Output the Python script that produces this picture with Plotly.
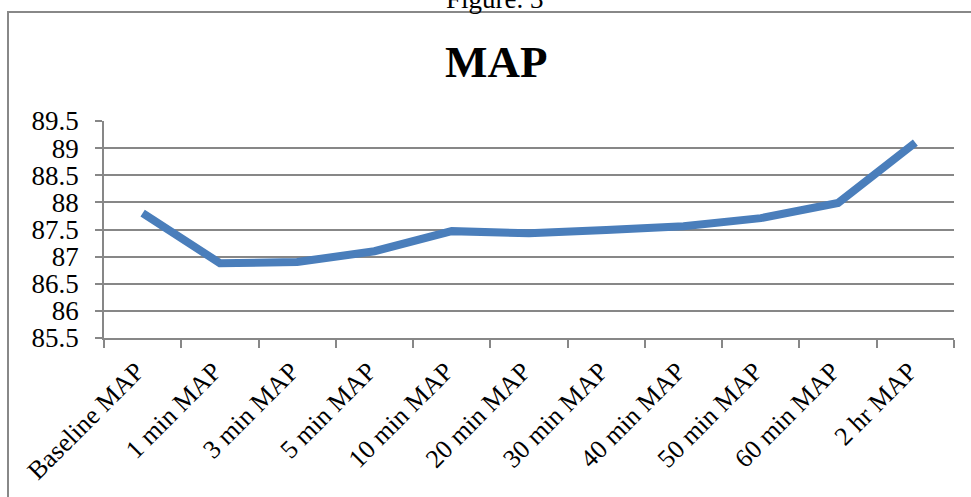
import plotly.graph_objects as go

categories = ["Baseline MAP", "1 min MAP", "3 min MAP", "5 min MAP", "10 min MAP",
              "20 min MAP", "30 min MAP", "40 min MAP", "50 min MAP", "60 min MAP", "2 hr MAP"]
map_values = [87.80, 86.88, 86.90, 87.10, 87.47, 87.43, 87.49, 87.56, 87.71, 87.99, 89.10]
y_tickvals = [85.5, 86, 86.5, 87, 87.5, 88, 88.5, 89, 89.5]
y_ticktext = ["85.5", "86", "86.5", "87", "87.5", "88", "88.5", "89", "89.5"]

W, H = 971, 497
L, R, T, B = 104, 17, 121, 159
PW, PH = W - L - R, H - T - B

def px(X):
    return (X - L) / PW

def py(Y):
    return (H - B - Y) / PH

fig = go.Figure()
fig.add_trace(go.Scatter(
    x=categories, y=map_values, mode="lines",
    line=dict(color="#4a7ebb", width=8),
    hoverinfo="skip", showlegend=False,
))

grid = "#878787"
fig.update_layout(
    width=W, height=H,
    margin=dict(l=L, r=R, t=T, b=B, autoexpand=False),
    paper_bgcolor="white", plot_bgcolor="white",
    font=dict(family="Liberation Serif", color="black"),
    xaxis=dict(
        type="category", range=[-0.5, 10.5], tickangle=-45, automargin=False,
        tickson="boundaries", ticks="outside", ticklen=8, tickcolor=grid, tickwidth=1.5,
        showgrid=False, showline=True, linecolor=grid, linewidth=1.5,
        tickfont=dict(size=26, family="Liberation Serif"),
        ticklabelshift=-6, ticklabelstandoff=6,
        fixedrange=True,
    ),
    yaxis=dict(
        range=[85.5, 89.5], tickvals=y_tickvals, ticktext=y_ticktext, automargin=False,
        ticks="outside", ticklen=7, tickcolor=grid, tickwidth=1.5,
        showgrid=True, gridcolor=grid, gridwidth=1.5,
        showline=True, linecolor=grid, linewidth=1.5, zeroline=False,
        tickfont=dict(size=27, family="Liberation Serif"),
        ticklabelstandoff=11,
        fixedrange=True,
    ),
    shapes=[dict(type="rect", xref="paper", yref="paper",
                 x0=px(8), x1=px(990), y0=py(520), y1=py(12),
                 line=dict(color="#888888", width=2), fillcolor="rgba(0,0,0,0)", layer="below")],
    annotations=[
        dict(text="<b>MAP</b>", xref="paper", yref="paper", x=px(496), y=py(62),
             xanchor="center", yanchor="middle", showarrow=False,
             font=dict(size=45, family="Liberation Serif", color="black")),
        dict(text="Figure. 3", xref="paper", yref="paper", x=px(495), y=py(-1),
             xanchor="center", yanchor="middle", showarrow=False,
             font=dict(size=27, family="Liberation Serif", color="black")),
    ],
)

fig.write_html("out.html", config={"displayModeBar": False},
               post_script="document.body.style.margin='0';")
